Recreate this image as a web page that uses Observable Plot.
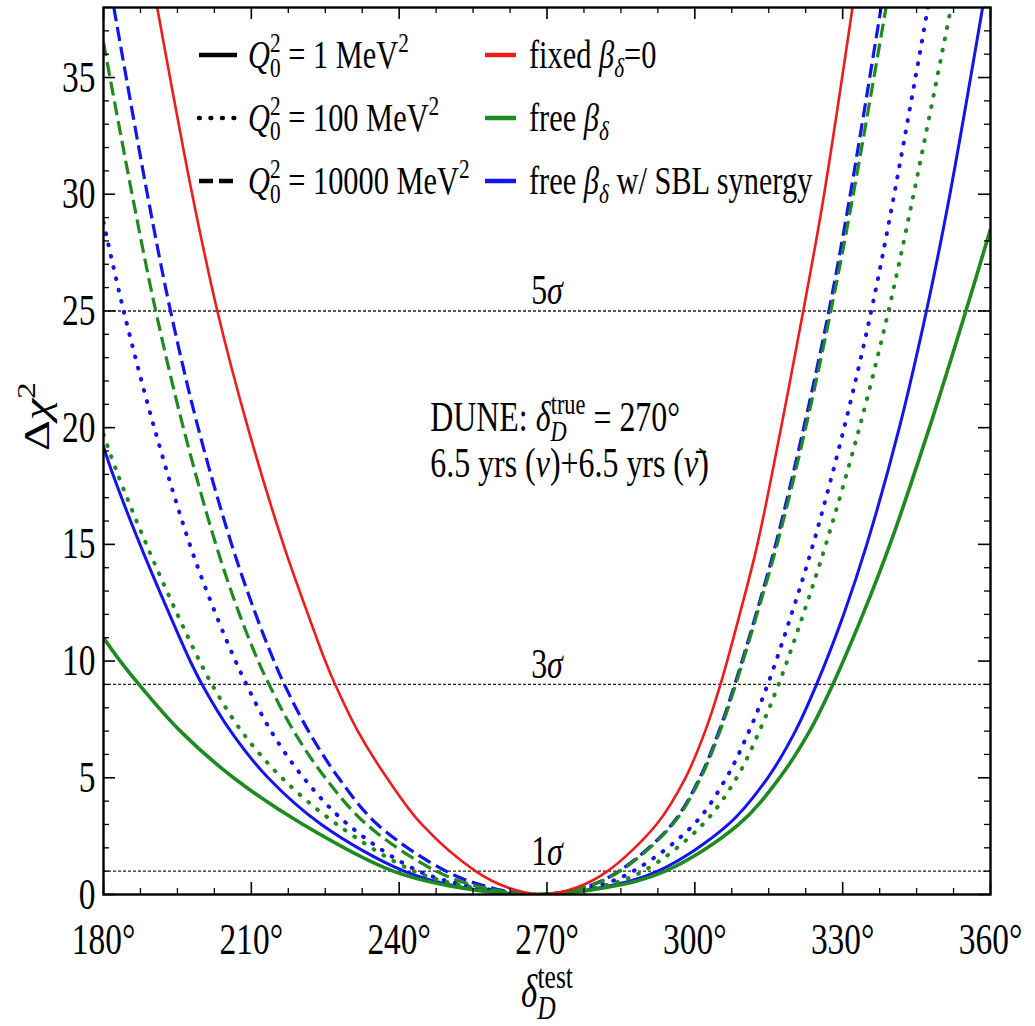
<!DOCTYPE html>
<html><head><meta charset="utf-8">
<script src="https://cdn.jsdelivr.net/npm/d3@7"></script>
<script src="https://cdn.jsdelivr.net/npm/@observablehq/plot@0.6"></script>
<style>
body{margin:0;background:#fff;}
#chart{width:1035px;height:1026px;}
svg text{font-family:"Liberation Serif",serif;}
</style></head><body><div id="chart"></div>
<script>
// ---- data: [delta_test (deg), delta chi^2] ----
const fixedBeta0 = [[190.9,38],[198,30],[203.1,25],[209.3,20],[216.5,15],[221.5,12],[225,10],[227,9],[231.6,7],[237.5,5],[244.6,3],[255.5,1],[262,0.3],[269,0],[276,0.3],[282.3,1],[292.2,3],[298.1,5],[302.1,7],[305.2,9],[309.1,12],[312.7,15],[317.5,20],[322,25],[326,29.7],[332,38]];
const freeQ1     = [[180,11],[183.4,10],[187.2,9],[195.6,7],[206.4,5],[220.5,3],[238.8,1],[252,0.3],[267,0],[282,0.3],[294,1],[308.9,3],[317.2,5],[323.3,7],[328,9],[334.1,12],[339.6,15],[347.6,20],[355,25],[360,28.5]];
const freeQ100   = [[180,19.7],[182.9,18],[188.7,15],[195,12],[199.5,10],[202,9],[208,7],[216.2,5],[227.4,3],[243,1],[255,0.3],[268,0],[280,0.3],[289.5,1],[301.6,3],[308.5,5],[313.1,7],[317,9],[322,12],[326.6,15],[333.4,20],[339.3,25],[344.1,29.7],[352,38]];
const freeQ10000 = [[180,36.5],[185.8,30],[190.6,25],[196.2,20],[202.8,15],[207.6,12],[211.4,10],[213.6,9],[218.6,7],[225,5],[233.4,3],[247.5,1],[257,0.3],[268,0],[277.5,0.3],[284.8,1],[295.5,3],[301.2,5],[305.1,7],[308.3,9],[312.6,12],[316.7,15],[322.5,20],[327.6,25],[331.9,29.7],[338.8,38]];
const sblQ1      = [[180,19.2],[181.9,18],[187.4,15],[193.4,12],[197.6,10],[200,9],[205.8,7],[213.4,5],[224.2,3],[241,1],[253,0.3],[268,0],[281,0.3],[292.5,1],[306.8,3],[314.8,5],[320.4,7],[324.7,9],[330.2,12],[334.9,15],[341.5,20],[347,25],[351.5,29.7],[358.4,38]];
const sblQ100    = [[180,28.8],[184.1,25],[190.3,20],[197.5,15],[202.8,12],[206.8,10],[209,9],[214,7],[220.6,5],[229.6,3],[244,1],[256,0.3],[268,0],[279,0.3],[287.5,1],[299.8,3],[306.4,5],[311,7],[314.8,9],[319.6,12],[324,15],[330.3,20],[335.8,25],[340.2,29.7],[347.3,38]];
const sblQ10000  = [[182.1,38],[188.9,30],[193.6,25],[199.2,20],[206,15],[210.9,12],[214.6,10],[216.7,9],[221.6,7],[227.7,5],[235.6,3],[249.5,1],[258.5,0.3],[268,0],[277.5,0.3],[284.6,1],[295.3,3],[301,5],[304.9,7],[308.1,9],[312.4,12],[316.4,15],[322.1,20],[327.2,25],[331.3,29.7],[337.8,38]];

const sigmaLevels = [1, 9, 25];
const sigmaLabels = ["1σ", "3σ", "5σ"];
const sigmaLabelX = 270;
const noteX = 246.3;
const noteY = [20.45, 18.45];
const xMajor = [180, 210, 240, 270, 300, 330, 360];
const yMajor = [0, 5, 10, 15, 20, 25, 30, 35];
const xMinor = d3.range(180, 360.01, 7.5).filter(d => d % 30 !== 0);
const yMinor = d3.range(0, 38.01, 1).filter(d => d % 5 !== 0);
const qLabels = ["Q1", "Q100", "Q10000"];
const modelLabels = ["fixed", "free", "sbl"];

const RED = "#ee1c1c", GREEN = "#1f8a1f", BLUE = "#1414ee";
const DOT = "0.8,10.7", DASH = "14,6";

const series = [
  {pts: sblQ100, color: BLUE, w: 4, dash: DOT, cap: "round"},
  {pts: sblQ10000, color: BLUE, w: 3.2, dash: DASH, cap: "butt"},
  {pts: sblQ1, color: BLUE, w: 3, dash: null, cap: "butt"},
  {pts: freeQ100, color: GREEN, w: 4, dash: DOT, cap: "round"},
  {pts: freeQ10000, color: GREEN, w: 3.2, dash: DASH, cap: "butt"},
  {pts: freeQ1, color: GREEN, w: 3.6, dash: null, cap: "butt"},
  {pts: fixedBeta0, color: RED, w: 2.6, dash: null, cap: "butt"}
];

const W = 1035, H = 1026, mL = 103, mR = 45, mT = 7, mB = 132;
const fw = W - mL - mR, fh = H - mT - mB;
const S = 0.76; // horizontal squeeze of the lettering

function md(parts, F) {
  let cur = 0, out = "";
  for (const p of parts) {
    const [t, o = {}] = Array.isArray(p) ? p : [p, {}];
    const target = o.sub ? 0.24 * F : o.sup ? -0.4 * F : 0;
    const dy = target - cur; cur = target;
    let a = "";
    if (o.sub || o.sup) a += ` font-size="${(0.7 * F).toFixed(1)}"`;
    if (o.i) a += ` font-style="italic"`;
    if (o.dx) a += ` dx="${(o.dx * F).toFixed(1)}"`;
    if (dy !== 0) a += ` dy="${dy.toFixed(1)}"`;
    out += `<tspan${a}>${t}</tspan>`;
  }
  return out;
}
const rich = {
  "1σ": {F: 42, parts: ["1", ["σ", {i: true}]]},
  "3σ": {F: 42, parts: ["3", ["σ", {i: true}]]},
  "5σ": {F: 42, parts: ["5", ["σ", {i: true}]]},
  "NOTE1": {F: 42, parts: ["DUNE: ", ["δ", {i: true}], ["D", {sub: true, i: true}], ["true", {sup: true, dx: -0.5}], " = 270°"]},
  "NOTE2": {F: 42, parts: ["6.5 yrs (", ["ν", {i: true}], ")+6.5 yrs (", ["ν\u0304", {i: true}], ")"]},
  "XLAB": {F: 48, parts: [["δ", {i: true}], ["D", {sub: true, i: true}], ["test", {sup: true, dx: -0.5}]]},
  "YLAB": {F: 48, parts: ["Δ", ["χ", {i: true}], ["2", {sup: true}]]},
  "Q1": {F: 40, parts: [["Q", {i: true}], ["0", {sub: true}], ["2", {sup: true, dx: -0.35}], " = 1 MeV", ["2", {sup: true}]]},
  "Q100": {F: 40, parts: [["Q", {i: true}], ["0", {sub: true}], ["2", {sup: true, dx: -0.35}], " = 100 MeV", ["2", {sup: true}]]},
  "Q10000": {F: 40, parts: [["Q", {i: true}], ["0", {sub: true}], ["2", {sup: true, dx: -0.35}], " = 10000 MeV", ["2", {sup: true}]]},
  "fixed": {F: 40, parts: ["fixed ", ["β", {i: true}], ["δ", {sub: true, i: true}], "=0"]},
  "free": {F: 40, parts: ["free ", ["β", {i: true}], ["δ", {sub: true, i: true}]]},
  "sbl": {F: 40, parts: ["free ", ["β", {i: true}], ["δ", {sub: true, i: true}], " w/ SBL synergy"]}
};

const marks = [
  Plot.ruleY(sigmaLevels, {stroke: "#222", strokeWidth: 1.4, strokeDasharray: "3,2"}),
  ...series.map(s => Plot.line(s.pts, {x: d => d[0], y: d => d[1], stroke: s.color, strokeWidth: s.w,
      strokeDasharray: s.dash, strokeLinecap: s.cap, curve: "catmull-rom", clip: true})),
  Plot.text(sigmaLevels, {x: () => sigmaLabelX, y: d => d, text: (d, i) => sigmaLabels[i], dy: -20, fontSize: 42, lineAnchor: "middle"}),
  Plot.text(noteY, {x: () => noteX, y: d => d, text: (d, i) => "NOTE" + (i + 1), textAnchor: "start", fontSize: 42, lineAnchor: "middle"}),
  Plot.tickX(xMajor, {x: d => d, insetTop: fh - 12, strokeWidth: 1.6}),
  Plot.tickX(xMinor, {x: d => d, insetTop: fh - 6, strokeWidth: 1.3}),
  Plot.tickX(xMajor, {x: d => d, insetBottom: fh - 12, strokeWidth: 1.6}),
  Plot.tickX(xMinor, {x: d => d, insetBottom: fh - 6, strokeWidth: 1.3}),
  Plot.tickY(yMajor, {y: d => d, insetRight: fw - 12, strokeWidth: 1.6}),
  Plot.tickY(yMinor, {y: d => d, insetRight: fw - 6, strokeWidth: 1.3}),
  Plot.tickY(yMajor, {y: d => d, insetLeft: fw - 12, strokeWidth: 1.6}),
  Plot.tickY(yMinor, {y: d => d, insetLeft: fw - 6, strokeWidth: 1.3}),
  Plot.axisX({ticks: xMajor, tickSize: 0, tickPadding: 28, tickFormat: d => d + "°", fontSize: 44, label: null}),
  Plot.axisY({ticks: yMajor, tickSize: 0, tickPadding: 8, tickFormat: d => String(d), fontSize: 44, label: null}),
  Plot.text(["XLAB"], {frameAnchor: "bottom", dy: 98, fontSize: 46, lineAnchor: "middle"}),
  Plot.text(["YLAB"], {frameAnchor: "left", dx: -66, rotate: -90, fontSize: 48, lineAnchor: "middle"}),
  Plot.frame({stroke: "black", strokeWidth: 2.4})
];

const svg = Plot.plot({
  width: W, height: H, marginLeft: mL, marginRight: mR, marginTop: mT, marginBottom: mB,
  x: {domain: [180, 360]}, y: {domain: [0, 38]},
  style: {fontFamily: "Liberation Serif, serif", fontSize: "44px", background: "white", color: "black"},
  marks
});

// legend (inside the frame, top-left)
const legendRowsY = [55, 118, 181];
const qDash = [null, DOT, DASH], qCap = ["butt", "round", "butt"];
const modelColors = [RED, GREEN, BLUE];
const lg = d3.select(svg).append("g").attr("aria-label", "legend").attr("text-anchor", "start");
legendRowsY.forEach((y, i) => {
  lg.append("line").attr("x1", 199).attr("x2", 237).attr("y1", y).attr("y2", y)
    .attr("stroke", "black").attr("stroke-width", 4.5).attr("stroke-linecap", qCap[i])
    .attr("stroke-dasharray", qDash[i]);
  lg.append("text").attr("transform", `translate(248,${y})`).attr("text-anchor", "start").attr("dy", "0.32em").attr("font-size", 40).text(qLabels[i]);
  lg.append("line").attr("x1", 485).attr("x2", 516).attr("y1", y).attr("y2", y)
    .attr("stroke", modelColors[i]).attr("stroke-width", 4.5);
  lg.append("text").attr("transform", `translate(529,${y})`).attr("text-anchor", "start").attr("dy", "0.32em").attr("font-size", 40).text(modelLabels[i]);
});

svg.querySelectorAll("text").forEach(t => {
  const key = t.textContent;
  if (rich[key]) { t.innerHTML = md(rich[key].parts, rich[key].F); t.style.whiteSpace = "pre"; }
  let tr = t.getAttribute("transform");
  if (!tr) {
    const x = +(t.getAttribute("x") || 0), y = +(t.getAttribute("y") || 0);
    t.removeAttribute("x"); t.removeAttribute("y");
    tr = `translate(${x},${y})`;
  }
  const rotated = /rotate/.test(tr);
  t.setAttribute("transform", tr + (rotated ? ` scale(1,${S})` : ` scale(${S},1)`));
});

document.getElementById("chart").appendChild(svg);
</script></body></html>
